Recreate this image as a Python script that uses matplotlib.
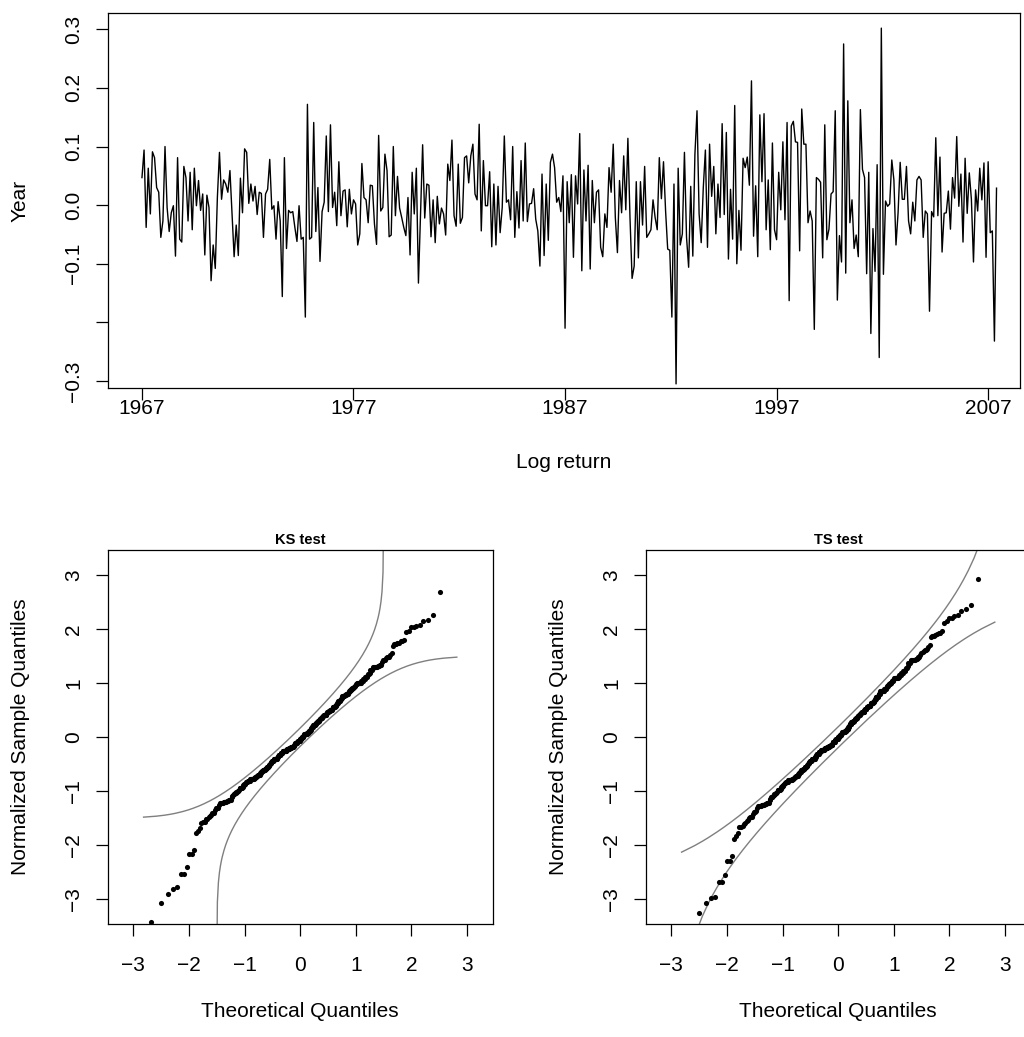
import math
from statistics import NormalDist

import numpy as np
import matplotlib
matplotlib.use("Agg")
import matplotlib.pyplot as plt

plt.rcParams['font.family'] = ['Liberation Sans', 'DejaVu Sans']

# monthly log returns (one list per ~5 years)
seg1 = [0.047, 0.094, -0.038, 0.063, -0.015, 0.091, 0.081, 0.030, 0.022, -0.055,
        -0.027, 0.100, -0.004, -0.045, -0.013, -0.001, -0.087, 0.081, -0.058, -0.063,
        0.066, 0.047, -0.027, 0.056, -0.042, 0.063, -0.001, 0.042, -0.009, 0.019,
        -0.085, 0.017, -0.004, -0.129, -0.068, -0.108, 0.013, 0.090, 0.010, 0.043,
        0.036, 0.022, 0.059, -0.015, -0.088, -0.034, -0.086]
seg2 = [0.046, -0.013, 0.096, 0.090, 0.003, 0.036, 0.007, 0.032, -0.016, 0.022,
        0.020, -0.055, 0.019, 0.027, 0.078, -0.007, -0.001, -0.058, 0.006, -0.027,
        -0.156, 0.081, -0.074, -0.009, -0.013, -0.011, -0.038, -0.062, -0.001, -0.058,
        -0.055, -0.191, 0.172, -0.058, -0.055, 0.141, -0.045, 0.030, -0.096, -0.011,
        0.005, 0.118, -0.011, 0.137, -0.004, 0.022, -0.035]
seg3 = [0.074, -0.018, 0.024, 0.026, -0.037, 0.027, -0.015, 0.009, 0.002, -0.068,
        -0.049, 0.071, 0.013, 0.009, -0.030, 0.034, 0.033, -0.032, -0.067, 0.119,
        -0.010, -0.004, 0.087, 0.059, -0.054, -0.051, 0.100, -0.018, 0.049, -0.005,
        -0.021, -0.038, -0.052, 0.013, -0.085, 0.056, -0.015, 0.063, -0.133, -0.015,
        0.103, -0.022, 0.036, 0.034, -0.054]
seg4 = [0.009, -0.064, 0.015, -0.032, -0.005, -0.015, -0.051, 0.070, 0.042, 0.111,
        -0.018, -0.036, 0.070, -0.031, -0.021, 0.081, 0.084, 0.038, 0.084, 0.104,
        0.019, 0.009, 0.138, -0.044, 0.076, -0.001, -0.001, 0.057, -0.071, 0.036,
        -0.068, 0.032, -0.047, -0.004, 0.118, 0.005, 0.009, -0.025, 0.100, -0.055,
        0.023, -0.039, 0.076, -0.027]
seg5 = [0.106, -0.028, 0.002, 0.003, 0.028, -0.024, -0.044, -0.104, 0.053, -0.086,
        0.036, -0.060, 0.073, 0.087, 0.064, 0.005, 0.013, -0.011, 0.050, -0.210,
        0.040, -0.030, 0.052, -0.089, 0.050, 0.002, 0.122, -0.112, 0.060, -0.027,
        0.068, -0.109, 0.042, -0.030, 0.022, 0.026, -0.072, -0.088, -0.015, -0.038,
        0.064, 0.022]
seg6 = [0.104, -0.021, -0.081, 0.042, -0.013, 0.084, -0.008, 0.114, -0.021, -0.125,
        -0.104, 0.040, -0.090, 0.040, -0.034, 0.066, -0.055, -0.049, -0.042, 0.009,
        -0.021, -0.042, 0.081, 0.011, 0.074, -0.010, -0.075, -0.077, -0.191, 0.036,
        -0.305, 0.063, -0.068, -0.049, 0.090, -0.055, -0.106, 0.032, -0.087, 0.087,
        0.161, -0.015, -0.064, 0.030, 0.094, -0.072, 0.104, 0.015, 0.066, -0.049,
        0.036]
seg7 = [-0.021, 0.139, -0.016, 0.124, -0.092, 0.027, -0.058, 0.170, -0.100, -0.009,
        -0.077, 0.080, 0.064, 0.082, 0.034, 0.212, -0.053, 0.033, -0.088, 0.154,
        0.040, 0.156, -0.042, 0.043, -0.076, 0.106, -0.042, -0.059, 0.056, -0.008,
        0.108, -0.025, 0.141, -0.163, 0.135, 0.143, 0.108, 0.107, -0.078, 0.164,
        0.104, 0.104, -0.030]
seg8 = [-0.010, -0.027, -0.212, 0.047, 0.044, 0.039, -0.090, 0.137, -0.059, -0.041,
        0.019, 0.023, 0.161, -0.162, -0.052, -0.097, 0.275, -0.116, 0.178, -0.030,
        0.009, -0.074, -0.051, -0.088, 0.163, 0.061, 0.047, -0.117, 0.056, -0.219,
        -0.040, -0.113, 0.069, -0.260, 0.302, -0.118, 0.007, -0.002, 0.002, 0.077,
        0.043, -0.068, -0.013, 0.073, 0.010, 0.010, 0.066, -0.027, -0.049]
seg9 = [0.005, -0.027, 0.043, 0.049, 0.043, -0.055, -0.010, -0.015, -0.181, -0.011,
        -0.020, 0.115, -0.018, 0.082, -0.080, -0.014, -0.013, 0.024, -0.041, 0.047,
        0.012, 0.117, -0.002, 0.053, -0.063, 0.080, -0.014, 0.055, 0.010, -0.097,
        0.026, -0.010, 0.063, 0.009, 0.072, -0.089, 0.074, -0.047, -0.044, -0.232,
        0.029]

start_year = 1967.0
end_year = 2007.4
year_ticks = [1967, 1977, 1987, 1997, 2007]
ret_ticks = [-0.3, -0.2, -0.1, 0.0, 0.1, 0.2, 0.3]
ret_labels = ['\u22120.3', '', '\u22120.1', '0.0', '0.1', '0.2', '0.3']
qq_ticks = [-3, -2, -1, 0, 1, 2, 3]
qq_labels = ['\u22123', '\u22122', '\u22121', '0', '1', '2', '3']

returns = np.array(seg1 + seg2 + seg3 + seg4 + seg5 + seg6 + seg7 + seg8 + seg9)
n = len(returns)
years = np.linspace(start_year, end_year, n)

nd = NormalDist()
qnorm = np.vectorize(nd.inv_cdf)
pnorm = np.vectorize(nd.cdf)

# qq points
theo = qnorm((np.arange(1, n + 1) - 0.5) / n)
z_ks = np.sort((returns - returns.mean()) / returns.std(ddof=1))
q75, q25 = np.percentile(returns, [75, 25])
z_ts = np.sort((returns - np.median(returns)) / ((q75 - q25) / 1.349))

# band x grid
xb = qnorm(np.arange(1, n + 1) / (n + 1))

# KS band
d = 1.358 / math.sqrt(n)
pb = pnorm(xb)
ks_up = qnorm(np.clip(pb + d, 1e-7, 1 - 1e-7))
ks_lo = qnorm(np.clip(pb - d, 1e-7, 1 - 1e-7))

# tail sensitive band: pointwise order statistic intervals
a2 = 0.001
zg = np.linspace(-5.5, 5.5, 3000)
pg = pnorm(zg)
k = np.arange(n + 1)
lchoose = np.array([math.lgamma(n + 1) - math.lgamma(j + 1) - math.lgamma(n - j + 1) for j in k])
logpmf = lchoose[None, :] + k[None, :] * np.log(pg)[:, None] + (n - k)[None, :] * np.log1p(-pg)[:, None]
pmf = np.exp(logpmf)
F_ge = np.cumsum(pmf[:, ::-1], axis=1)[:, ::-1]  # P(Bin >= i)
ts_up = np.empty(n)
ts_lo = np.empty(n)
for i in range(1, n + 1):
    Fi = np.maximum.accumulate(F_ge[:, i])
    ts_up[i - 1] = np.interp(1 - a2, Fi, zg)
    ts_lo[i - 1] = np.interp(a2, Fi, zg)

W, H = 1024, 1037
fig = plt.figure(figsize=(W / 100, H / 100), dpi=100)


def frac(x0, y0, x1, y1):
    return [x0 / W, 1 - y1 / H, (x1 - x0) / W, (y1 - y0) / H]


def r_style(ax, xpad):
    for s in ax.spines.values():
        s.set_linewidth(0.9)
        s.set_color('black')
    ax.tick_params(direction='out', length=8.4, width=0.9, labelsize=15)
    ax.tick_params(axis='x', pad=xpad)
    ax.tick_params(axis='y', labelrotation=90, pad=9.3)
    for t in ax.get_yticklabels():
        t.set_verticalalignment('center')


# top: returns series
ax1 = fig.add_axes(frac(107.7, 13.3, 1020, 387.7))
ax1.plot(years, returns, color='black', lw=1.0)
ax1.set_xlim(1965.38, 2008.51)
ax1.set_ylim(-0.3115, 0.3273)
ax1.set_xticks(year_ticks)
ax1.set_yticks(ret_ticks)
ax1.set_yticklabels(ret_labels)
r_style(ax1, -0.5)
ax1.set_xlabel('Log return', fontsize=15, va='center')
ax1.xaxis.set_label_coords(0.5, -0.2)
ax1.set_ylabel('Year', fontsize=15, va='center')
ax1.yaxis.set_label_coords(-0.0965, 0.5)


def qq_panel(rect, z, up, lo, title):
    ax = fig.add_axes(frac(*rect))
    ax.plot(xb, up, color='#7f7f7f', lw=1.0)
    ax.plot(xb, lo, color='#7f7f7f', lw=1.0)
    ax.plot(theo, z, 'o', ms=3.7, color='black', mec='none')
    ax.set_xlim(-3.46, 3.46)
    ax.set_ylim(-3.46, 3.46)
    ax.set_xticks(qq_ticks)
    ax.set_yticks(qq_ticks)
    ax.set_xticklabels(qq_labels)
    ax.set_yticklabels(qq_labels)
    r_style(ax, 14.5)
    ax.set_title(title, fontsize=10.5, fontweight='bold', pad=4)
    ax.set_xlabel('Theoretical Quantiles', fontsize=15, va='center')
    ax.xaxis.set_label_coords(0.5, -0.232)
    ax.set_ylabel('Normalized Sample Quantiles', fontsize=15, va='center')
    ax.yaxis.set_label_coords(-0.233 + 3 / 385, 0.5)
    return ax


axk = qq_panel((107.7, 550, 492.7, 924.3), z_ks, ks_up, ks_lo, 'KS test')
axt = qq_panel((645.7, 550, 1030.7, 924.3), z_ts, ts_up, ts_lo, 'TS test')

fig.savefig('out.png', dpi=100)
